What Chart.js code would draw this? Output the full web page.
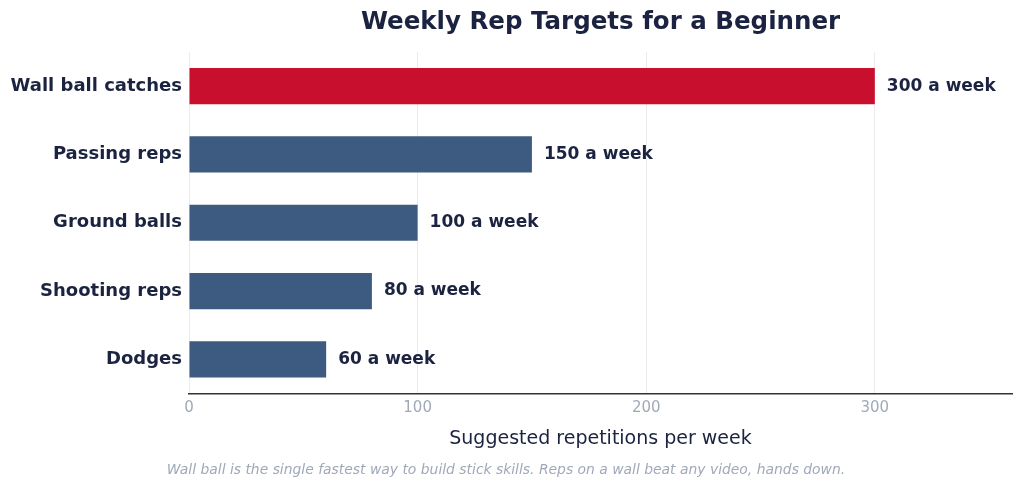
<html>
	<head>
		<script src="https://cdn.jsdelivr.net/npm/chart.js@4.4.1/dist/chart.umd.min.js"></script>
		<style>
			html, body { margin: 0; padding: 0; background: #ffffff; }
			#container { width: 1024px; height: 489px; }
		</style>
	</head>
	<body>
		<div id="container">
			<canvas id="myChart"></canvas>
		</div>
		<script>
			var categories = ["Wall ball catches", "Passing reps", "Ground balls", "Shooting reps", "Dodges"];
			var repsPerWeek = [300, 150, 100, 80, 60];
			var barColors = ["#c8102e", "#3d5a80", "#3d5a80", "#3d5a80", "#3d5a80"];
			var xTicks = [0, 100, 200, 300];

			var NAVY = "#1b2340";
			var GRAY = "#a0a9b8";
			var FONT = "'DejaVu Sans', sans-serif";

			// labels at the end of each bar
			var valueLabels = {
				id: "valueLabels",
				afterDatasetsDraw: function(chart) {
					var ctx = chart.ctx;
					var meta = chart.getDatasetMeta(0);
					ctx.save();
					ctx.font = "bold 17px " + FONT;
					ctx.fillStyle = NAVY;
					ctx.textBaseline = "middle";
					ctx.textAlign = "left";
					meta.data.forEach(function(bar, i) {
						ctx.fillText(repsPerWeek[i] + " a week", bar.x + 12, bar.y);
					});
					ctx.restore();
				}
			};

			// title centred over the plot area
			var plotTitle = {
				id: "plotTitle",
				afterDraw: function(chart) {
					var ctx = chart.ctx;
					var area = chart.chartArea;
					ctx.save();
					ctx.font = "bold 24.5px " + FONT;
					ctx.fillStyle = NAVY;
					ctx.textAlign = "center";
					ctx.textBaseline = "middle";
					ctx.fillText("Weekly Rep Targets for a Beginner", (area.left + area.right) / 2, 23);
					ctx.restore();
				}
			};

			var ctx = document.getElementById("myChart").getContext("2d");
			var myChart = new Chart(ctx, {
				type: "bar",
				data: {
					labels: categories,
					datasets: [{
						data: repsPerWeek,
						backgroundColor: barColors,
						borderWidth: 0,
						barPercentage: 0.53,
						categoryPercentage: 1
					}]
				},
				options: {
					indexAxis: "y",
					responsive: true,
					maintainAspectRatio: false,
					animation: false,
					layout: { padding: { top: 52, right: 12, left: 0, bottom: 10 } },
					plugins: {
						legend: { display: false },
						tooltip: { enabled: false },
						title: { display: false },
						subtitle: {
							display: true,
							position: "bottom",
							text: "Wall ball is the single fastest way to build stick skills. Reps on a wall beat any video, hands down.",
							color: GRAY,
							font: { family: FONT, size: 13.9, style: "italic" },
							padding: { top: 12, bottom: 0 }
						}
					},
					scales: {
						x: {
							min: 0,
							max: 360,
							afterBuildTicks: function(scale) {
								scale.ticks = xTicks.map(function(v) { return { value: v }; });
							},
							grid: { color: "#e9ebf0", lineWidth: 1, drawTicks: false },
							border: { display: true, color: "#333333", width: 1.5 },
							ticks: {
								color: GRAY,
								padding: 6,
								font: { family: FONT, size: 15 }
							},
							title: {
								display: true,
								text: "Suggested repetitions per week",
								color: NAVY,
								font: { family: FONT, size: 19 },
								padding: { top: 4, bottom: 0 }
							}
						},
						y: {
							grid: { display: false, drawTicks: false },
							border: { display: false },
							afterFit: function(scale) { scale.width = 189; },
							ticks: {
								color: NAVY,
								padding: 7,
								font: { family: FONT, size: 18, weight: "bold" }
							}
						}
					}
				},
				plugins: [valueLabels, plotTitle]
			});
		</script>
	</body>
</html>
